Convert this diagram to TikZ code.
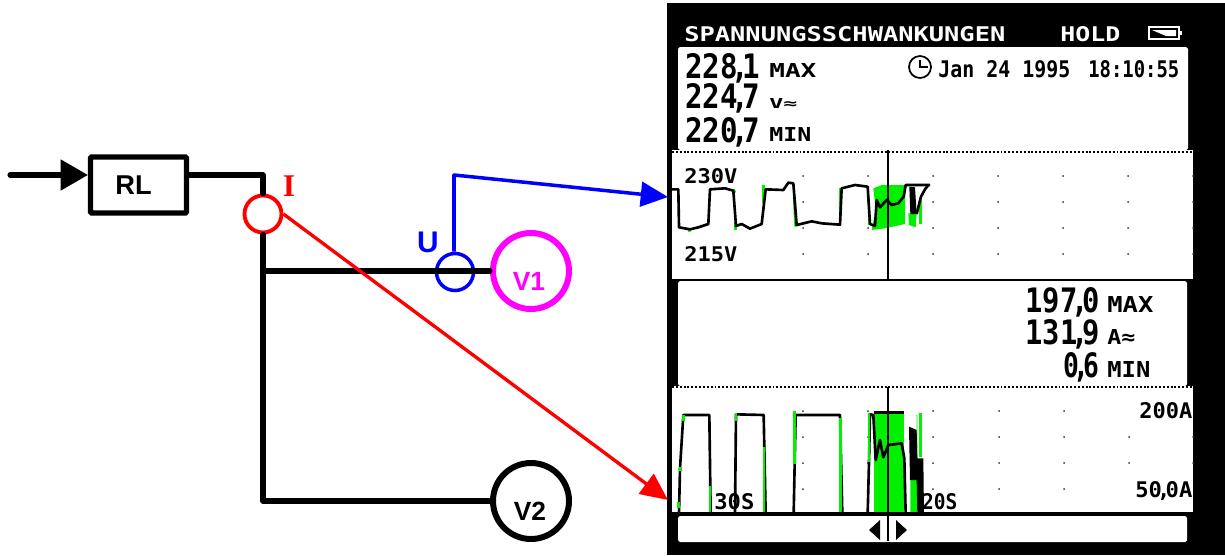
\documentclass[tikz,border=0pt]{standalone}
\usepackage{fontspec}
\setmainfont{Liberation Sans}
\newfontfamily\lcdfont{DejaVu Sans Mono}
\newfontfamily\serfont{Liberation Serif}
\usepackage{tikz}
\usetikzlibrary{calc}
\usetikzlibrary{arrows.meta}
\usetikzlibrary{positioning}
\newlength{\pxu}
\setlength{\pxu}{0.02cm}
\newcommand{\Lcd}[3]{\resizebox{#1\pxu}{#2\pxu}{\lcdfont\bfseries #3}}
\newcommand{\Cm}{\kern-.22em\smash{,}\kern-.22em}
\colorlet{veci}{red}
\colorlet{vecu}{blue}
\definecolor{violetv}{RGB}{255,0,255}
\definecolor{lcdgreen}{RGB}{0,240,0}

\begin{document}
\begin{tikzpicture}[
x=0.02cm,y=-0.02cm,
Wire/.style={draw=black,line width=2.9pt,line join=round,line cap=round},
Meter/.style={circle,draw,line width=3.4pt,minimum size=76\pxu,inner sep=0pt,font=\bfseries\fontsize{15}{15}\selectfont},
Probe/.style={circle,draw,minimum size=37\pxu,inner sep=0pt},
Panel/.style={fill=white,rounded corners=1pt},
LcdText/.style={anchor=base west,inner sep=0pt},
Trace/.style={draw=black,line width=1.5pt,line join=round},
GreenTrace/.style={draw=lcdgreen,line width=1.6pt},
ScopeDot/.style={fill=black!80}
]
\useasboundingbox (0,0) rectangle (1225,555);

% instrument screen
\fill[black] (667,3) rectangle (1225,555);
\fill[Panel] (678,47) rectangle (1188,150);
\fill[white] (672,150) rectangle (1193,279);
\fill[Panel] (678,281) rectangle (1187,386);
\fill[white] (672,386) rectangle (1193,514);
\fill[Panel] (678,516) rectangle (1187,542);
\draw[black,line width=1pt,dash pattern=on 1.1pt off 1.1pt] (672,152)--(1193,152);
\draw[black,line width=1pt,dash pattern=on 1.1pt off 1.1pt] (672,387)--(1193,387);

% header
\node[LcdText,text=white] (Title) at (684,41) {\Lcd{321}{15}{SPANNUNGSSCHWANKUNGEN}};
\node[LcdText,text=white] (Hold) at (1060,41) {\Lcd{60}{15}{HOLD}};
\draw[white,line width=0.9pt] (1149,27) rectangle (1179,39);
\fill[white] (1179,31) rectangle (1182,35);
\fill[white] (1152,30) -- (1176,30) -- (1176,36) -- (1166,36) -- cycle;

% voltage readings
\node[LcdText] (MaxU) at (685,78) {\Lcd{75}{25}{228\Cm 1}};
\node[LcdText] (MaxUt) at (769,77) {\Lcd{47}{14}{MAX}};
\node[LcdText] (MeanU) at (685,108) {\Lcd{75}{25}{224\Cm 7}};
\node[LcdText] (MeanUt) at (769,108) {\Lcd{28}{10}{V≈}};
\node[LcdText] (MinU) at (685,142) {\Lcd{75}{25}{220\Cm 7}};
\node[LcdText] (MinUt) at (769,141) {\Lcd{42}{14}{MIN}};
\draw[black,line width=1pt] (920,67) circle [radius=11];
\draw[black,line width=1pt] (920,60)--(920,67)--(928,67);
\node[LcdText] (Date) at (938,77) {\Lcd{132}{17}{Jan 24 1995}};
\node[LcdText] (Time) at (1088,77) {\Lcd{91}{17}{18:10:55}};

% current readings
\node[LcdText] (MaxI) at (1025,312) {\Lcd{74}{25}{197\Cm 0}};
\node[LcdText] (MaxIt) at (1107,312) {\Lcd{46}{16}{MAX}};
\node[LcdText] (MeanI) at (1025,344) {\Lcd{74}{25}{131\Cm 9}};
\node[LcdText] (MeanIt) at (1107,344) {\Lcd{28}{15}{A≈}};
\node[LcdText] (MinI) at (1063,377) {\Lcd{36}{25}{0\Cm 6}};
\node[LcdText] (MinIt) at (1107,377) {\Lcd{43}{16}{MIN}};

% scope dots
\foreach \Xd in {803,868,933,998,1063,1128,1193}{
\foreach \Yd in {176,202,228,254}{
\fill[ScopeDot] (\Xd,\Yd) circle [radius=1];
}}
\foreach \Xd in {803,868,933,999,1064}{
\foreach \Yd in {411,437,463,489}{
\fill[ScopeDot] (\Xd,\Yd) circle [radius=1];
}}
\foreach \Xd in {1129,1193}{
\foreach \Yd in {437,463}{
\fill[ScopeDot] (\Xd,\Yd) circle [radius=1];
}}

\node[LcdText] (TopU) at (684,183) {\Lcd{53}{15}{230V}};
\node[LcdText] (LowU) at (684,261) {\Lcd{53}{15}{215V}};
\node[LcdText] (TopI) at (1139,418) {\Lcd{53}{16}{200A}};
\node[LcdText] (LowI) at (1135,497) {\Lcd{57}{16}{50\Cm 0A}};
\node[LcdText] (TimeA) at (714,509) {\Lcd{40}{16}{30S}};
\node[LcdText] (TimeB) at (910,509) {\Lcd{47}{16}{120S}};

% voltage trace
\begin{scope}[shift={(665,150)},scale=1/3]
\fill[lcdgreen] (625,115)--(650,105)--(720,105)--(720,222)--(660,235)--(620,240)--(632,180)--cycle;
\fill[lcdgreen] (730,190)--(755,190)--(752,232)--(732,225)--cycle;
\draw[GreenTrace] (42,165)--(42,235);
\draw[GreenTrace] (72,235)--(74,245);
\draw[GreenTrace] (205,118)--(210,128);
\draw[GreenTrace] (212,215)--(212,240);
\draw[GreenTrace] (296,105)--(296,160);
\draw[GreenTrace] (388,140)--(392,230);
\draw[GreenTrace] (525,115)--(525,215);
\draw[GreenTrace] (612,140)--(612,225);
\draw[GreenTrace] (767,150)--(767,222);
\draw[Trace] (20,118)--(40,118)--(42,232)--(75,238)--(100,232)--(130,222)--(135,118)--(180,115)--(205,122)--(213,228)--(230,222)--(255,236)--(290,222)--(302,118)--(355,120)--(370,98)--(385,100)--(395,225)--(440,214)--(470,220)--(525,224)--(530,115)--(570,105)--(608,110)--(615,222)--(630,228)--(635,150)--(645,172)--(665,150)--(680,165)--(700,160)--(716,140)--(722,105)--(795,105);
\fill[black] (733,110)--(750,112)--(755,192)--(736,192)--cycle;
\draw[Trace] (755,192)--(768,140)--(780,118)--(790,105);
\draw[black,line width=1.2pt] (668,0)--(668,388);
\end{scope}

% current trace
\begin{scope}[shift={(665,380)},scale=1/3]
\fill[lcdgreen] (627,98) rectangle (718,402);
\fill[lcdgreen] (732,105)--(755,105)--(755,150)--(736,300)--(736,402)--(757,402)--(757,105)--cycle;
\draw[Trace] (20,401)--(42,401)--(45,265)--(55,105)--(133,105)--(137,401)--(210,401)--(213,103)--(296,105)--(302,401)--(386,401)--(392,105)--(525,105)--(532,401)--(608,401)--(612,248)--(615,103)--(625,105)--(632,240)--(645,180)--(655,232)--(670,195)--(710,190)--(718,235)--(722,401);
\draw[Trace] (627,98)--(718,98);
\fill[black] (732,140)--(755,150)--(757,235)--(775,235)--(777,402)--(757,402)--(755,300)--(735,300)--cycle;
\draw[GreenTrace] (56,105)--(56,122);
\draw[GreenTrace] (47,262)--(47,272);
\draw[GreenTrace] (41,365)--(41,385);
\draw[GreenTrace] (135,318)--(135,400);
\draw[GreenTrace] (213,100)--(213,122);
\draw[GreenTrace] (297,200)--(297,400);
\draw[GreenTrace] (388,92)--(388,252);
\draw[GreenTrace] (527,115)--(527,400);
\draw[GreenTrace] (612,100)--(612,245);
\draw[GreenTrace] (767,98)--(767,232);
\draw[black,line width=1.2pt] (668,20)--(668,402);
\draw[black,line width=1.6pt] (672,401)--(1584,401) (20,401)--(672,401);
\end{scope}

% cursor marks
\draw[black,line width=1.2pt] (888,516)--(888,541);
\fill[black] (869,530)--(880,520)--(880,540)--cycle;
\fill[black] (907,530)--(896,520)--(896,540)--cycle;

% circuit
\coordinate (In) at (10,175);
\coordinate (Jun) at (263,271);
\coordinate (Bot) at (263,501);
\coordinate (Bend) at (454,175);
\coordinate (ScrU) at (668,197);
\coordinate (ScrI) at (668,500);

\node[draw,line width=2.9pt,rounded corners=0.5pt,minimum width=96\pxu,minimum height=56\pxu,inner sep=0pt,
font=\bfseries\fontsize{15.5}{15.5}\selectfont] (RL) at (138.5,185) {RL\kern 5.6pt};
\node[Probe,draw=veci,line width=2.2pt] (CI) at (263,214) {};
\node[Probe,draw=vecu,line width=2pt] (CU) at (455,272) {};
\node[Meter,draw=violetv] (V1) at (531,271) {};
\node[Meter,draw=black] (V2) at (531,501) {};
\node[text=violetv,font=\bfseries\fontsize{15}{15}\selectfont] (LV1) at (529,281) {V1};
\node[text=black,font=\bfseries\fontsize{15}{15}\selectfont] (LV2) at (530,511) {V2};
\node[text=veci,font=\serfont\bfseries\fontsize{18}{18}\selectfont,inner sep=0pt] (LI) at (289,186) {I};
\node[text=vecu,font=\bfseries\fontsize{17}{17}\selectfont,inner sep=0pt] (LU) at (428,242) {U};

\draw[Wire,-{Triangle[length=15.5pt,width=17pt]}] (In) -- (RL.west |- In);
\draw[Wire] (RL.east |- In) -| (CI.north);
\draw[Wire] (CI.south) -- (Bot) -- (V2.west);
\draw[Wire] (Jun) -- (V1.west);

\draw[vecu,line width=2pt,line join=round,-{Triangle[length=15.5pt,width=14pt]}] (CU.north -| Bend) -- (Bend) -- (ScrU);
\draw[veci,line width=1.9pt,-{Triangle[length=15.5pt,width=14pt]}] (CI.east) -- (ScrI);

\end{tikzpicture}
\end{document}
